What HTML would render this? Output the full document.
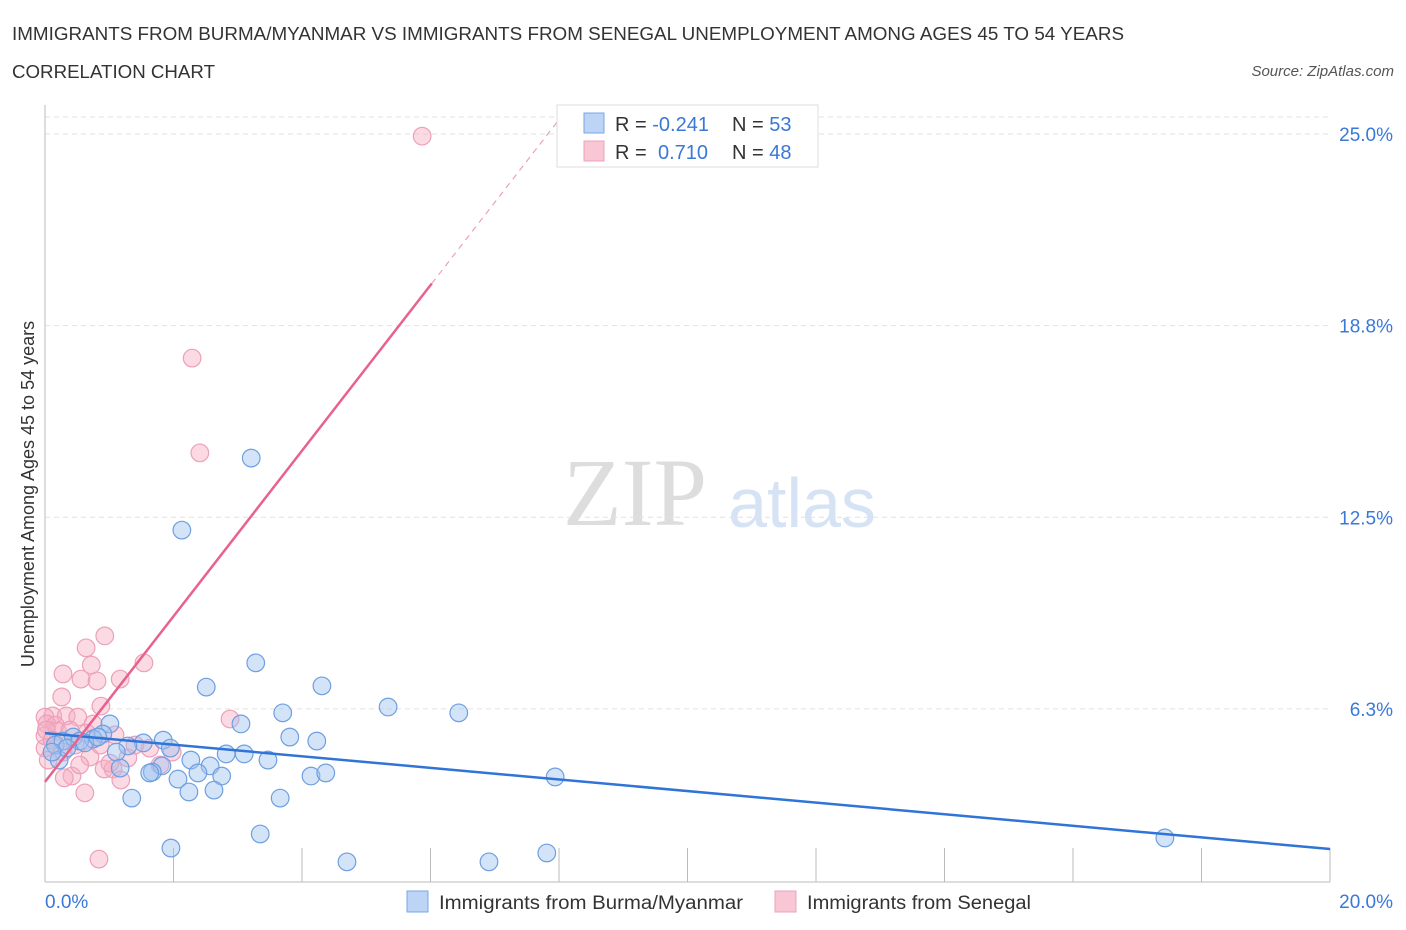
<!DOCTYPE html>
<html><head><meta charset="utf-8"><style>
body{margin:0;background:#fff;font-family:"Liberation Sans",sans-serif}
svg{display:block}
</style></head><body>
<svg id="c" width="1406" height="930">
<text x="12" y="40" font-size="18" fill="#333" textLength="1112" lengthAdjust="spacingAndGlyphs">IMMIGRANTS FROM BURMA/MYANMAR VS IMMIGRANTS FROM SENEGAL UNEMPLOYMENT AMONG AGES 45 TO 54 YEARS</text>
<text x="12" y="78" font-size="18" fill="#333" textLength="203" lengthAdjust="spacingAndGlyphs">CORRELATION CHART</text>
<text x="1394" y="76" font-size="15" fill="#555" font-style="italic" text-anchor="end">Source: ZipAtlas.com</text>
<text x="34" y="494" font-size="18" fill="#333" text-anchor="middle" transform="rotate(-90 34 494)">Unemployment Among Ages 45 to 54 years</text>
<text x="635" y="525" font-size="96" fill="#ddd" font-family="Liberation Serif,serif" text-anchor="middle">ZIP</text>
<text x="802" y="527" font-size="70" fill="#d6e3f5" text-anchor="middle">atlas</text>
<g id="grid"></g><g id="marks"></g>
<g>
<rect x="557" y="105" width="261" height="62" fill="#fff" stroke="#ddd"/>
<rect x="584" y="113" width="20" height="20" fill="#bcd4f5" stroke="#7aa6e6"/>
<rect x="584" y="141" width="20" height="20" fill="#f9c6d6" stroke="#eea0b8"/>
<text x="615" y="131" font-size="20" fill="#333">R = <tspan fill="#3a78d8">-0.241</tspan><tspan x="732">N = </tspan><tspan fill="#3a78d8">53</tspan></text>
<text x="615" y="159" font-size="20" fill="#333">R = <tspan x="658" fill="#3a78d8">0.710</tspan><tspan x="732">N = </tspan><tspan fill="#3a78d8">48</tspan></text>
</g>
<g>
<rect x="407" y="891" width="21" height="21" fill="#bcd4f5" stroke="#7aa6e6"/>
<text x="439" y="909" font-size="19" fill="#333" textLength="304" lengthAdjust="spacingAndGlyphs">Immigrants from Burma/Myanmar</text>
<rect x="775" y="891" width="21" height="21" fill="#f9c6d6" stroke="#eea0b8"/>
<text x="807" y="909" font-size="19" fill="#333" textLength="224" lengthAdjust="spacingAndGlyphs">Immigrants from Senegal</text>
</g>
</svg>
<script>
const yTicks=[6.25,12.5,18.75,25];
const yTickLabels=["6.3%","12.5%","18.8%","25.0%"];
const xTickLabels=["0.0%","20.0%"];
const blueX=[3.21,2.13,3.28,2.51,4.31,5.34,6.44,3.70,3.05,1.01,3.81,4.23,1.84,1.53,1.95,0.16,0.28,0.44,0.90,0.75,0.54,1.29,1.11,0.22,2.82,3.10,3.47,2.27,2.57,1.82,1.67,2.38,2.75,2.07,4.14,4.37,7.94,2.24,2.63,1.35,3.66,3.35,1.96,4.70,6.91,7.81,17.43,0.34,0.11,0.62,0.82,1.17,1.63];
const blueY=[14.43,12.08,7.75,6.96,7.00,6.31,6.12,6.12,5.76,5.76,5.33,5.20,5.23,5.14,4.97,5.07,5.20,5.33,5.43,5.27,5.20,5.04,4.84,4.58,4.78,4.78,4.58,4.58,4.39,4.39,4.19,4.16,4.06,3.96,4.06,4.16,4.03,3.54,3.60,3.34,3.34,2.17,1.71,1.26,1.26,1.55,2.04,4.97,4.84,5.14,5.33,4.32,4.16];
const pinkX=[5.87,2.29,2.41,0.93,0.64,1.54,0.72,0.56,0.81,1.17,0.28,0.26,0.87,0.12,0.33,0.51,0,0.03,0.16,0.75,2.88,1.09,0.65,0,0.28,1.63,1.98,0.70,1.29,0.92,1.06,1.18,0.42,0.30,0.62,0.84,0,0.19,1.79,0.02,0.47,1.01,1.40,0.11,0.39,0.86,0.05,0.54];
const pinkY=[24.93,17.69,14.60,8.63,8.24,7.75,7.68,7.22,7.16,7.22,7.39,6.64,6.34,6.02,6.02,5.98,5.98,5.76,5.72,5.76,5.92,5.40,5.46,4.97,4.84,4.97,4.84,4.68,4.65,4.29,4.29,3.93,4.06,4.00,3.51,1.35,5.37,5.53,4.42,5.56,5.07,4.48,5.07,5.23,5.56,5.07,4.58,4.42];
const blueTrend=[5.46,-0.189]; // intercept, slope
const pinkTrend=[3.87,2.70];
const NS="http://www.w3.org/2000/svg";
const X0=45,X1=1330,Ytop=105,Ybot=882;
function xs(v){return X0+v*(X1-X0)/20;}
function ys(v){return 900.5-v*30.66;}
function mk(t,a,p){const e=document.createElementNS(NS,t);for(const k in a)e.setAttribute(k,a[k]);p.appendChild(e);return e;}
const g=document.getElementById('grid'),m=document.getElementById('marks');
mk('line',{x1:X0,x2:X1,y1:117,y2:117,stroke:'#e2e2e2','stroke-dasharray':'5,4'},g);
yTicks.forEach((t,i)=>{
 const l=mk('line',{x1:X0,x2:X1,y1:ys(t),y2:ys(t),stroke:'#e2e2e2','stroke-dasharray':'5,4'},g);
 
 
 const tx=mk('text',{x:1393,y:ys(t)+7,'font-size':19,fill:'#3a78d8','text-anchor':'end'},g);tx.textContent=yTickLabels[i];
 
 
});
mk('line',{x1:X0,x2:X0,y1:Ytop,y2:Ybot,stroke:'#bbb'},g);
mk('line',{x1:X0,x2:X1,y1:Ybot,y2:Ybot,stroke:'#bbb'},g);
for(let i=1;i<=10;i++){const x=xs(i*2);const t=mk('line',{x1:x,x2:x,y1:848,y2:Ybot,stroke:'#bbb'},g);
 
 }
[[0,'start',45],[20,'end',1393]].forEach((a,i)=>{const t=mk('text',{x:a[2],y:908,'font-size':19,fill:'#3a78d8','text-anchor':a[1]},g);t.textContent=xTickLabels[i];
 
 });
function dots(X,Y,fill,stroke,name){X.forEach((x,i)=>{const c=mk('circle',{cx:xs(x),cy:ys(Y[i]),r:8.8,fill:fill,stroke:stroke,'stroke-width':1.2},m);
 
 });}
dots(pinkX,pinkY,'rgba(246,172,196,0.45)','#eca0b9','senegal-point');
dots(blueX,blueY,'rgba(158,194,240,0.45)','#6f9fe0','burma-point');
const bl=mk('line',{x1:xs(0),y1:ys(blueTrend[0]),x2:xs(20),y2:ys(blueTrend[0]+20*blueTrend[1]),stroke:'#2f74d6','stroke-width':2.5},m);


const pl=mk('line',{x1:xs(0),y1:ys(pinkTrend[0]),x2:xs(6.02),y2:ys(pinkTrend[0]+6.02*pinkTrend[1]),stroke:'#e8628e','stroke-width':2.5},m);


const pd=mk('line',{x1:xs(6.02),y1:ys(pinkTrend[0]+6.02*pinkTrend[1]),x2:xs(7.97),y2:ys(pinkTrend[0]+7.97*pinkTrend[1]),stroke:'#eca0b9','stroke-width':1.2,'stroke-dasharray':'6,5'},m);


</script>
</body></html>
